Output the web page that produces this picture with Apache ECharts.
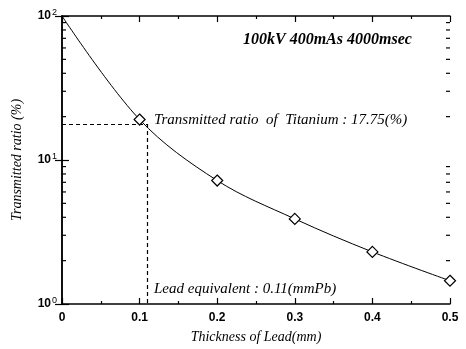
<!DOCTYPE html>
<html><head><meta charset="utf-8">
<script src="https://cdn.jsdelivr.net/npm/echarts@6/dist/echarts.min.js"></script>
<style>html,body{margin:0;padding:0;background:#fff}#c{width:466px;height:349px}</style>
</head><body><div id="c"></div>
<script>
const thickness = [0, 0.1, 0.2, 0.3, 0.4, 0.5];
const ratio = [100, 19.1, 7.2, 3.9, 2.3, 1.45];
const xTicks = ['0', '0.1', '0.2', '0.3', '0.4', '0.5'];
const yMinorTicks = [2,3,4,5,6,7,8,9,20,30,40,50,60,70,80,90];
const leadEquivalent = 0.11;
const titaniumRatio = 17.75;
const conditionText = '100kV 400mAs 4000msec';
const titaniumText = 'Transmitted ratio  of  Titanium : 17.75(%)';
const leadText = 'Lead equivalent : 0.11(mmPb)';
const xName = 'Thickness of Lead(mm)';
const yName = 'Transmitted ratio (%)';

const serif = '"Liberation Serif","DejaVu Serif",serif';
const sans = '"Liberation Sans",Arial,sans-serif';
const axisLine = {show: true, lineStyle: {color: '#000', width: 1.5}};

const chart = echarts.init(document.getElementById('c'));
chart.setOption({
  animation: false,
  backgroundColor: '#fff',
  grid: {left: 62, right: 16, top: 16, bottom: 44},
  xAxis: [{
    type: 'value', min: 0, max: 0.5, interval: 0.1, position: 'bottom',
    axisLine: axisLine,
    axisTick: {inside: true, length: 6, lineStyle: {color: '#000', width: 1.2}},
    minorTick: {show: true, splitNumber: 2, length: 3, lineStyle: {color: '#000', width: 1.2}},
    splitLine: {show: false},
    axisLabel: {margin: 8, color: '#000', fontFamily: sans, fontWeight: 'bold', fontSize: 12,
      formatter: (v) => xTicks[Math.round(v * 10)]},
    name: xName, nameLocation: 'middle', nameGap: 26,
    nameTextStyle: {fontFamily: serif, fontStyle: 'italic', fontSize: 14, color: '#000'}
  }, {
    type: 'value', min: 0, max: 0.5, interval: 0.1, position: 'top',
    axisLine: axisLine,
    axisTick: {inside: true, length: 6, lineStyle: {color: '#000', width: 1.2}},
    minorTick: {show: true, splitNumber: 2, length: 3, lineStyle: {color: '#000', width: 1.2}},
    splitLine: {show: false}, axisLabel: {show: false}
  }],
  yAxis: [{
    type: 'log', logBase: 10, min: 1, max: 100, position: 'left',
    axisLine: axisLine,
    axisTick: {inside: true, length: 7, lineStyle: {color: '#000', width: 1.2}},
    splitLine: {show: false},
    axisLabel: {margin: 5, color: '#000',
      formatter: (v) => '{b|10}{s|' + Math.round(Math.log10(v)) + '}',
      rich: {b: {fontFamily: sans, fontWeight: 'bold', fontSize: 12, color: '#000'},
             s: {fontFamily: sans, fontSize: 9, color: '#000', verticalAlign: 'top', padding: [0, 0, 6, 1]}}},
    name: yName, nameLocation: 'middle', nameGap: 38, nameRotate: 90,
    nameTextStyle: {fontFamily: serif, fontStyle: 'italic', fontSize: 14, color: '#000'}
  }, {
    type: 'log', logBase: 10, min: 1, max: 100, position: 'right',
    axisLine: axisLine,
    axisTick: {inside: true, length: 7, lineStyle: {color: '#000', width: 1.2}},
    splitLine: {show: false}, axisLabel: {show: false}
  }],
  series: [{
    type: 'line', smooth: 0.35,
    data: thickness.map((x, i) => ({value: [x, ratio[i]], symbol: i === 0 ? 'none' : 'diamond'})),
    symbolSize: 11,
    itemStyle: {color: '#fff', borderColor: '#000', borderWidth: 1.2},
    lineStyle: {color: '#000', width: 1},
    z: 5,
    markLine: {
      silent: true, symbol: 'none', label: {show: false},
      lineStyle: {color: '#000', type: [4, 3], width: 1.2},
      data: [
        [{coord: [0, titaniumRatio]}, {coord: [leadEquivalent, titaniumRatio]}],
        [{coord: [leadEquivalent, titaniumRatio]}, {coord: [leadEquivalent, 1]}]
      ]
    }
  }, {
    type: 'custom', clip: false, silent: true,
    data: yMinorTicks.map(v => [0, v]),
    renderItem: function (params, api) {
      const v = api.value(1);
      const pl = api.coord([0, v]);
      const pr = api.coord([0.5, v]);
      const st = {stroke: '#000', lineWidth: 1.2};
      return {type: 'group', children: [
        {type: 'line', shape: {x1: pl[0], y1: pl[1], x2: pl[0] + 4, y2: pl[1]}, style: st},
        {type: 'line', shape: {x1: pr[0], y1: pr[1], x2: pr[0] - 4, y2: pr[1]}, style: st}
      ]};
    }
  }],
  graphic: [
    {type: 'text', left: 243, top: 32, style: {text: conditionText, font: 'italic bold 16px ' + serif, fill: '#000'}},
    {type: 'text', left: 154, top: 113, style: {text: titaniumText, font: 'italic 15px ' + serif, fill: '#000'}},
    {type: 'text', left: 154, top: 282, style: {text: leadText, font: 'italic 15px ' + serif, fill: '#000'}}
  ]
});
</script></body></html>
